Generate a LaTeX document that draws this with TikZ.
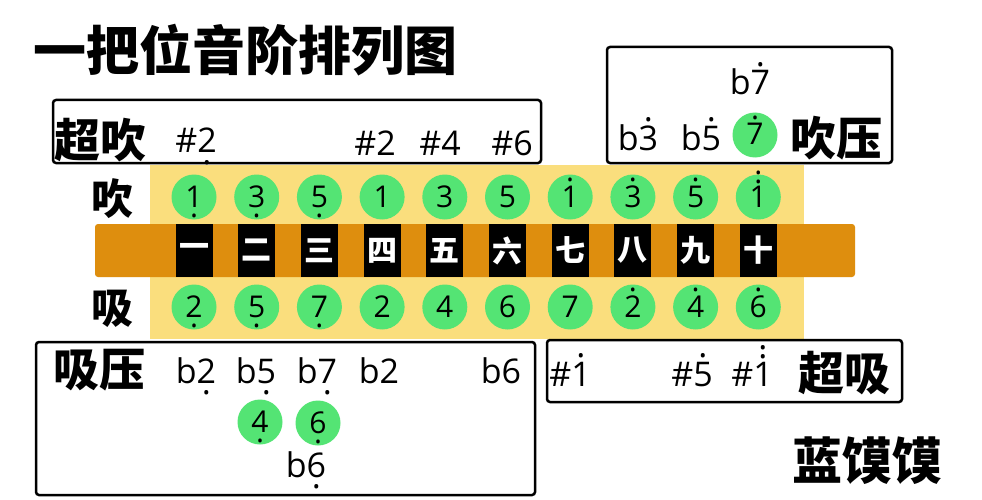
\documentclass[tikz,border=0pt]{standalone}
\usepackage{fontspec}
\newfontfamily\cjk{Noto Sans CJK SC}
\newfontfamily\numf{Open Sans}
\definecolor{hgreen}{RGB}{84,228,116}
\definecolor{hyellow}{RGB}{250,222,125}
\definecolor{horange}{RGB}{222,142,14}
\newcommand\hi[1]{\ooalign{#1\cr\hfil\raisebox{0.84em}{.}\hfil\cr}}
\newcommand\hii[1]{\ooalign{#1\cr\hfil\raisebox{0.80em}{.}\hfil\cr\hfil\raisebox{1.08em}{.}\hfil\cr}}
\newcommand\lo[1]{\ooalign{#1\cr\hfil\raisebox{-0.34em}{.}\hfil\cr}}
\tikzset{
  hole/.style={circle, fill=hgreen, minimum size=45pt, inner sep=0pt, text height=20pt, text depth=0pt, font=\numf\fontsize{30}{30}\selectfont},
  lbl/.style={inner sep=0pt, anchor=base, font=\numf\fontsize{34}{34}\selectfont},
  frame/.style={draw=black, line width=2.5pt, rounded corners=3pt},
  key/.style={fill=black, minimum width=37pt, minimum height=53pt, inner sep=0pt, text=white, font=\cjk\bfseries\fontsize{30}{30}\selectfont},
  big/.style={font=\cjk\bfseries\fontsize{46}{46}\selectfont, inner sep=0pt},
  side/.style={font=\cjk\bfseries\fontsize{42}{42}\selectfont, inner sep=0pt},
}
\begin{document}
\begin{tikzpicture}[x=1pt,y=-1pt]
\useasboundingbox[fill=white] (0,0) rectangle (982,500);
% title
\node[font=\cjk\bfseries\fontsize{53}{53}\selectfont, anchor=west, inner sep=0pt] (title) at (33,50) {一把位音阶排列图};
% harmonica body
\fill[hyellow] (150,165) rectangle (804,339);
\fill[horange, rounded corners=3pt] (95,224) rectangle (855,277);
\foreach \i/\t in {1/一,2/二,3/三,4/四,5/五,6/六,7/七,8/八,9/九,10/十}{
  \node[key] (k\i) at ({194+62.7*(\i-1)},250.5) {\t};
}
% blow row
\foreach \i/\t in {1/\lo{1},2/\lo{3},3/\lo{5},4/1,5/3,6/5,7/\hi{1},8/\hi{3},9/\hi{5},10/\hii{1}}{
  \node[hole] (b\i) at ({194+62.7*(\i-1)},197) {\t};
}
% draw row
\foreach \i/\t in {1/\lo{2},2/\lo{5},3/\lo{7},4/2,5/4,6/6,7/7,8/\hi{2},9/\hi{4},10/\hi{6}}{
  \node[hole] (d\i) at ({194+62.7*(\i-1)},307) {\t};
}
\node[side] (blowlbl) at (112,199) {吹};
\node[side] (drawlbl) at (112,309) {吸};
% overblow box
\draw[frame] (53,100) rectangle (541,163);
\node[big] (ob) at (100,140) {超吹};
\node[lbl] (ob1) at (196,153) {\#\lo{2}};
\node[lbl] (ob4) at (375,155) {\#2};
\node[lbl] (ob5) at (440,155) {\#4};
\node[lbl] (ob6) at (512,155) {\#6};
% blow bend box
\draw[frame] (607,47) rectangle (892,163);
\node[big] (bb) at (836,138) {吹压};
\node[lbl] (bb8) at (638,150) {b\hi{3}};
\node[lbl] (bb9) at (701,150) {b\hi{5}};
\node[hole] (bb10a) at (755,135) {\hi{7}};
\node[lbl] (bb10b) at (750,95) {b\hi{7}};
% draw bend box
\draw[frame] (36,342) rectangle (535,495);
\node[big] (db) at (99,370) {吸压};
\node[lbl] (db1) at (196,383) {b\lo{2}};
\node[lbl] (db2) at (256,383) {b\lo{5}};
\node[lbl] (db3) at (317,383) {b\lo{7}};
\node[lbl] (db4) at (379,383) {b2};
\node[lbl] (db6) at (501,383) {b6};
\node[hole] (db2b) at (260,422) {\lo{4}};
\node[hole] (db3b) at (318,423) {\lo{6}};
\node[lbl] (db3c) at (306,477) {b\lo{6}};
% overdraw box
\draw[frame] (547,340) rectangle (902,402);
\node[big] (od) at (844,373) {超吸};
\node[lbl] (od7) at (570,386) {\#\hi{1}};
\node[lbl] (od9) at (692,386) {\#\hi{5}};
\node[lbl] (od10) at (752,386) {\#\hii{1}};
% author
\node[font=\cjk\bfseries\fontsize{50}{50}\selectfont, inner sep=0pt] (author) at (867,461) {蓝馍馍};
\end{tikzpicture}
\end{document}
